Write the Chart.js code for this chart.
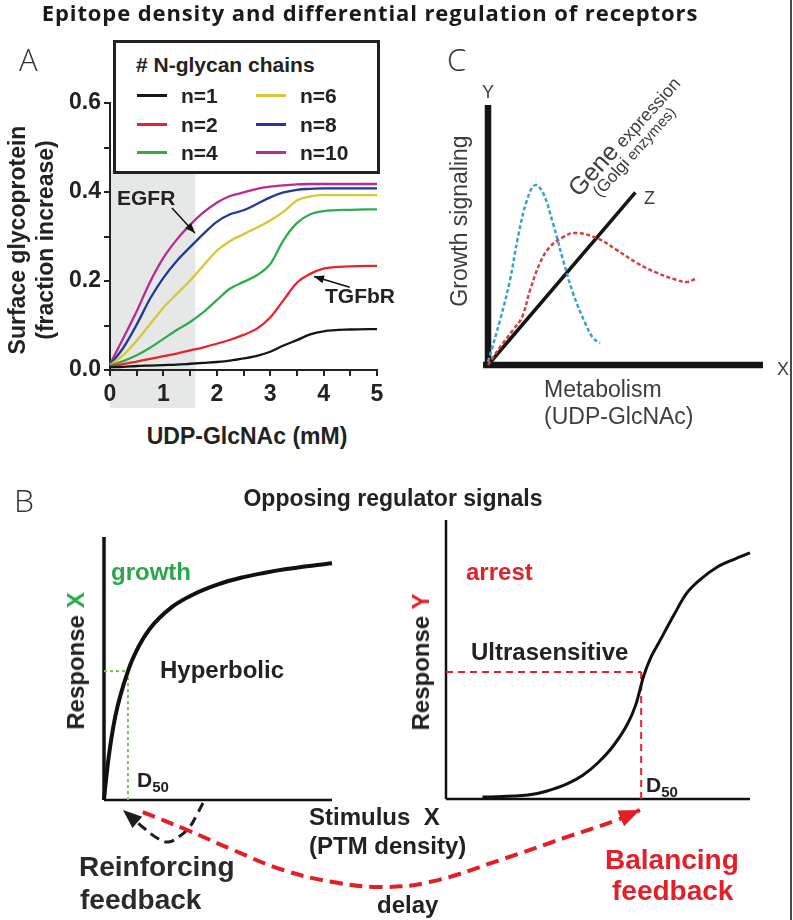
<!doctype html>
<html lang="en">
<head>
<meta charset="utf-8">
<title>Epitope density and differential regulation of receptors</title>
<script src="https://cdn.jsdelivr.net/npm/chart.js@4.4.1/dist/chart.umd.min.js"></script>
<style>
  html, body { margin: 0; padding: 0; background: #fff; }
  #page { position: relative; width: 793px; height: 920px; overflow: hidden;
          font-family: "Liberation Sans", Arial, sans-serif; color: #222; }
  #page canvas { position: absolute; }
  .t { position: absolute; white-space: nowrap; line-height: 1; font-weight: bold; }
  .v { transform: translate(-50%, -50%) rotate(-90deg); }
  .c { transform: translateX(-50%); }
  .thin { font-family: "Open Sans", sans-serif; font-weight: 300; color: #333; }
  .reg { font-weight: normal; color: #3d3d3d; }
  .green { color: #2aa74a; }
  .red { color: #e3202a; }
  .sub { font-size: 15px; position: relative; top: 5px; }
  #legendA { position: absolute; left: 113px; top: 40px; width: 261px; height: 128px;
             border: 3px solid #222; background: #fff; }
  .lgline { position: absolute; height: 3px; width: 30px; }
</style>
</head>
<body>
<div id="page">
  <canvas id="chartA" width="400" height="420" style="left:0;top:0"></canvas>
  <canvas id="chartC" width="353" height="310" style="left:440px;top:80px"></canvas>
  <canvas id="chartBL" width="300" height="300" style="left:60px;top:520px"></canvas>
  <canvas id="chartBR" width="393" height="320" style="left:400px;top:500px"></canvas>
  <canvas id="chartFB" width="793" height="140" style="left:0;top:780px"></canvas>

  <div class="t c" style="font-family:'Open Sans',sans-serif;font-size:22px;letter-spacing:0.9px;left:370px;top:1px;color:#1a1a1a">Epitope density and differential regulation of receptors</div>

  <!-- panel A -->
  <div class="t thin" style="font-size:31px;left:19px;top:44px">A</div>
  <div id="legendA"></div>
  <div class="t" style="font-size:21px;left:136px;top:54px"># N-glycan chains</div>
  <div class="t v" style="font-size:23px;left:17px;top:240px">Surface glycoprotein</div>
  <div class="t v" style="font-size:23px;left:45px;top:240px">(fraction increase)</div>
  <div class="t c" style="font-size:23px;left:247px;top:425px">UDP-GlcNAc (mM)</div>
  <div class="t" style="font-size:21px;left:117px;top:187px">EGFR</div>
  <div class="t" style="font-size:21px;left:325px;top:285px">TGFbR</div>

  <!-- panel C -->
  <div class="t thin" style="font-size:31px;left:447px;top:44px">C</div>
  <div class="t reg" style="font-size:18px;left:482px;top:83px">Y</div>
  <div class="t reg" style="font-size:18px;left:644px;top:189px">Z</div>
  <div class="t reg" style="font-size:18px;left:777px;top:360px">X</div>
  <div class="t reg v" style="font-size:23px;left:459px;top:221px">Growth signaling</div>
  <div class="t reg" style="font-size:23px;left:544px;top:378px">Metabolism</div>
  <div class="t reg" style="font-size:23px;left:544px;top:405px">(UDP-GlcNAc)</div>
  <div class="t reg" style="font-size:25px;left:579px;top:177px;transform-origin:0 21px;transform:rotate(-48deg)">Gene<span style="font-size:18px"> expression</span></div>
  <div class="t reg" style="font-size:17px;left:600px;top:184px;transform-origin:0 14px;transform:rotate(-48deg)">(Golgi<span style="font-size:15px"> enzymes)</span></div>

  <!-- panel B -->
  <div class="t thin" style="font-size:32px;left:14px;top:484px">B</div>
  <div class="t c" style="font-size:23px;left:393px;top:487px">Opposing regulator signals</div>
  <div class="t green" style="font-size:24px;left:111px;top:560px">growth</div>
  <div class="t v" style="font-size:24px;left:76px;top:661px">Response <span class="green">X</span></div>
  <div class="t" style="font-size:24px;left:160px;top:658px">Hyperbolic</div>
  <div class="t" style="font-size:21px;left:137px;top:769px">D<span class="sub">50</span></div>
  <div class="t red" style="font-size:24px;left:466px;top:560px">arrest</div>
  <div class="t" style="font-size:24px;left:471px;top:640px">Ultrasensitive</div>
  <div class="t v" style="font-size:24px;left:421px;top:662px">Response <span class="red">Y</span></div>
  <div class="t" style="font-size:21px;left:646px;top:774px">D<span class="sub">50</span></div>
  <div class="t" style="font-size:24px;left:309px;top:805px">Stimulus&nbsp; X</div>
  <div class="t" style="font-size:24px;left:309px;top:834px">(PTM density)</div>
  <div class="t" style="font-size:24px;left:377px;top:893px">delay</div>
  <div class="t" style="font-size:28px;left:79px;top:853px;color:#2a2a2a">Reinforcing</div>
  <div class="t" style="font-size:28px;left:80px;top:886px;color:#2a2a2a">feedback</div>
  <div class="t red" style="font-size:28px;left:605px;top:846px">Balancing</div>
  <div class="t red" style="font-size:28px;left:612px;top:877px">feedback</div>

  <div style="position:absolute;left:790px;top:0;width:2px;height:920px;background:#4a4a4a"></div>
</div>

<script>
  // ---- panel A: surface glycoprotein vs UDP-GlcNAc
  const glycanLabels = ['n=1', 'n=2', 'n=4', 'n=6', 'n=8', 'n=10'];
  const glycanColors = ['#151515', '#e8232a', '#2fad4a', '#d6c734', '#22399b', '#b82a94'];
  const udp = [0, 0.25, 0.5, 0.75, 1, 1.25, 1.5, 1.75, 2, 2.25, 2.5, 2.75, 3, 3.25, 3.5, 3.75, 4, 4.5, 5];
  const gN1 = [0.006, 0.007, 0.009, 0.010, 0.011, 0.012, 0.014, 0.016, 0.018, 0.021, 0.026, 0.032, 0.041, 0.055, 0.067, 0.080, 0.087, 0.091, 0.092];
  const gN2 = [0.008, 0.013, 0.019, 0.025, 0.031, 0.037, 0.044, 0.051, 0.059, 0.068, 0.079, 0.093, 0.118, 0.157, 0.196, 0.216, 0.228, 0.233, 0.234];
  const gN4 = [0.010, 0.020, 0.033, 0.050, 0.070, 0.090, 0.108, 0.130, 0.157, 0.183, 0.198, 0.213, 0.238, 0.292, 0.330, 0.350, 0.357, 0.360, 0.361];
  const gN6 = [0.011, 0.034, 0.066, 0.103, 0.140, 0.171, 0.201, 0.235, 0.268, 0.290, 0.305, 0.320, 0.336, 0.356, 0.381, 0.390, 0.393, 0.393, 0.393];
  const gN8 = [0.012, 0.050, 0.102, 0.160, 0.207, 0.245, 0.276, 0.306, 0.333, 0.350, 0.359, 0.373, 0.388, 0.399, 0.405, 0.407, 0.408, 0.408, 0.408];
  const gN10 = [0.013, 0.072, 0.132, 0.198, 0.252, 0.293, 0.326, 0.354, 0.376, 0.391, 0.399, 0.407, 0.412, 0.415, 0.417, 0.418, 0.418, 0.418, 0.418];
  const shadeX = [0, 1.6];
  const shadeTop = 0.45;
  const egfrArrow = { x: [1.16, 1.59], y: [0.364, 0.308] };
  const tgfbArrow = { x: [4.49, 3.82], y: [0.186, 0.210] };

  // ---- panel C: schematic axes and curves
  const cAxisLen = 10;
  const cZaxis = { x: [0, 5.36], y: [0, 6.64] };
  const cBlueX = [0, 0.44, 0.8, 1.09, 1.42, 1.71, 2.0, 2.36, 2.73, 3.09, 3.53, 3.82, 4.07];
  const cBlueY = [0.12, 1.73, 3.27, 4.92, 6.35, 6.92, 6.62, 5.46, 4.04, 2.77, 1.62, 1.04, 0.85];
  const cRedX = [0, 0.44, 0.91, 1.24, 1.53, 1.89, 2.25, 2.73, 3.16, 3.96, 4.69, 5.42, 6.15, 6.87, 7.24, 7.53];
  const cRedY = [0, 0.69, 1.35, 1.85, 2.88, 3.92, 4.54, 4.92, 5.08, 4.88, 4.42, 3.92, 3.54, 3.27, 3.19, 3.31];

  // ---- panel B: response curves
  const stimHyp = [0, 0.005, 0.02, 0.05, 0.105, 0.15, 0.2, 0.3, 0.4, 0.5, 0.6, 0.7, 0.8, 0.9, 1.0];
  const respHyp = [0, 0.045, 0.16, 0.32, 0.49, 0.58, 0.65, 0.735, 0.785, 0.82, 0.845, 0.863, 0.878, 0.89, 0.90];
  const d50Hyp = [0.105, 0.49];
  const stimUlt = [0.12, 0.27, 0.33, 0.4, 0.45, 0.5, 0.55, 0.6, 0.625, 0.65, 0.675, 0.7, 0.75, 0.79, 0.84, 0.89, 0.95, 1.0];
  const respUlt = [0.007, 0.014, 0.028, 0.055, 0.085, 0.13, 0.19, 0.275, 0.34, 0.44, 0.51, 0.56, 0.66, 0.735, 0.79, 0.83, 0.86, 0.882];
  const d50Ult = [0.642, 0.455];

  // ---- feedback arrows (0-100 diagram units)
  const fbRedX = [18.0, 23.6, 29.4, 35.7, 42.0, 47.9, 54.2, 63.1, 71.5, 77.8, 80.7];
  const fbRedY = [77.1, 64.3, 50.0, 35.7, 27.1, 23.6, 27.1, 42.9, 59.3, 71.4, 78.6];
  const fbBlackX = [25.6, 24.8, 24.0, 22.7, 21.2, 19.8, 18.3, 15.5];
  const fbBlackY = [83.6, 75.0, 67.1, 60.0, 55.7, 58.6, 65.0, 78.6];

  // legend of panel A
  const page = document.getElementById('page');
  const rowsY = [95.5, 124.5, 152.5];
  glycanLabels.forEach((lab, i) => {
    const col = Math.floor(i / 3), row = i % 3;
    const ln = document.createElement('div');
    ln.className = 'lgline';
    ln.style.background = glycanColors[i];
    ln.style.left = (col ? 256 : 137) + 'px';
    ln.style.top = (rowsY[row] - 1.5) + 'px';
    page.appendChild(ln);
    const tx = document.createElement('div');
    tx.className = 't';
    tx.style.fontSize = '21px';
    tx.style.left = (col ? 300 : 181) + 'px';
    tx.style.top = (rowsY[row] - 10.3) + 'px';
    tx.textContent = lab;
    page.appendChild(tx);
  });

  function path(xs, ys, color, width, extra) {
    return Object.assign({
      data: xs.map((x, i) => ({ x: x, y: ys[i] })),
      showLine: true, pointRadius: 0, borderColor: color, borderWidth: width,
      fill: false, clip: false, tension: 0
    }, extra || {});
  }

  function plainOptions(pad, xr, yr) {
    return {
      responsive: false, animation: false, events: [],
      layout: { padding: pad },
      plugins: { legend: { display: false }, tooltip: { enabled: false } },
      scales: {
        x: { type: 'linear', display: false, min: xr[0], max: xr[1] },
        y: { type: 'linear', display: false, min: yr[0], max: yr[1] }
      }
    };
  }

  // arrowhead at the last point of any dataset that has "arrow"
  const arrowHeads = {
    id: 'arrowHeads',
    afterDatasetsDraw(chart) {
      const ctx = chart.ctx;
      chart.data.datasets.forEach((ds, i) => {
        if (!ds.arrow) return;
        const pts = chart.getDatasetMeta(i).data;
        const a = pts[pts.length - 2], b = pts[pts.length - 1];
        const ang = Math.atan2(b.y - a.y, b.x - a.x);
        ctx.save();
        ctx.translate(b.x, b.y);
        ctx.rotate(ang);
        ctx.beginPath();
        ctx.moveTo(0, 0);
        ctx.lineTo(-ds.arrow.len, -ds.arrow.w / 2);
        ctx.lineTo(-ds.arrow.len, ds.arrow.w / 2);
        ctx.closePath();
        ctx.fillStyle = ds.borderColor;
        ctx.fill();
        ctx.restore();
      });
    }
  };

  const shadePlugin = {
    id: 'shade',
    beforeDraw(chart) {
      const { ctx, chartArea, scales } = chart;
      const x0 = scales.x.getPixelForValue(shadeX[0]);
      const x1 = scales.x.getPixelForValue(shadeX[1]);
      const y0 = scales.y.getPixelForValue(shadeTop);
      ctx.save();
      ctx.fillStyle = '#e6e7e7';
      ctx.fillRect(x0, y0, x1 - x0, chartArea.bottom + 38 - y0);
      ctx.restore();
    }
  };

  const tickFont = { family: 'Liberation Sans', size: 23, weight: 'bold' };
  const seriesA = [gN1, gN2, gN4, gN6, gN8, gN10];

  new Chart(document.getElementById('chartA'), {
    type: 'scatter',
    data: {
      datasets: [
        path(egfrArrow.x, egfrArrow.y, '#111', 1.5, { arrow: { len: 10, w: 8 } }),
        path(tgfbArrow.x, tgfbArrow.y, '#111', 1.5, { arrow: { len: 10, w: 8 } })
      ].concat(seriesA.map((ys, i) =>
        path(udp, ys, glycanColors[i], 2.3, { cubicInterpolationMode: 'monotone' })))
    },
    options: {
      responsive: false, animation: false, events: [],
      layout: { padding: { left: 60, right: 23, top: 103, bottom: 10 } },
      plugins: { legend: { display: false }, tooltip: { enabled: false } },
      scales: {
        x: {
          type: 'linear', min: 0, max: 5,
          afterFit: s => { s.height = 40; s.paddingLeft = 0; s.paddingRight = 0; },
          grid: { drawOnChartArea: false, tickLength: 6, color: '#222', tickColor: '#222', lineWidth: 2 },
          border: { display: true, color: '#222', width: 2 },
          ticks: {
            stepSize: 0.5, autoSkip: false, maxRotation: 0, padding: 5, color: '#222', font: tickFont,
            callback: v => Number.isInteger(v) ? String(v) : ''
          }
        },
        y: {
          type: 'linear', min: 0, max: 0.6,
          afterFit: s => { s.width = 50; },
          grid: { drawOnChartArea: false, tickLength: 6, color: '#222', tickColor: '#222', lineWidth: 2 },
          border: { display: true, color: '#222', width: 2 },
          ticks: {
            stepSize: 0.1, autoSkip: false, padding: 3, color: '#222', font: tickFont,
            callback: v => Math.round(v * 10) % 2 === 0 ? v.toFixed(1) : ''
          }
        }
      }
    },
    plugins: [shadePlugin, arrowHeads]
  });

  new Chart(document.getElementById('chartC'), {
    type: 'scatter',
    data: {
      datasets: [
        path(cBlueX, cBlueY, '#3aa0cf', 2.5, { borderDash: [4, 2.5], tension: 0.4 }),
        path(cRedX, cRedY, '#d8403c', 2.5, { borderDash: [4, 2.5], tension: 0.4 }),
        path(cZaxis.x, cZaxis.y, '#151515', 3.5),
        path([0, 0], [-0.12, cAxisLen], '#151515', 6.5),
        path([-0.18, cAxisLen], [0, 0], '#151515', 6.5)
      ]
    },
    options: plainOptions({ left: 48, right: 30, top: 25, bottom: 25 }, [0, cAxisLen], [0, cAxisLen])
  });

  new Chart(document.getElementById('chartBL'), {
    type: 'scatter',
    data: {
      datasets: [
        path(stimHyp, respHyp, '#111', 4, { cubicInterpolationMode: 'monotone' }),
        path([0, d50Hyp[0]], [d50Hyp[1], d50Hyp[1]], '#7ec242', 2, { borderDash: [3, 3] }),
        path([d50Hyp[0], d50Hyp[0]], [d50Hyp[1], 0], '#7ec242', 2, { borderDash: [3, 3] }),
        path([0, 0], [0, 1], '#111', 3.5),
        path([0, 1], [0, 0], '#111', 2.5)
      ]
    },
    options: plainOptions({ left: 44, right: 28, top: 17, bottom: 20 }, [0, 1], [0, 1])
  });

  new Chart(document.getElementById('chartBR'), {
    type: 'scatter',
    data: {
      datasets: [
        path(stimUlt, respUlt, '#111', 3, { cubicInterpolationMode: 'monotone' }),
        path([0, d50Ult[0]], [d50Ult[1], d50Ult[1]], '#e3262d', 2, { borderDash: [7, 5] }),
        path([d50Ult[0], d50Ult[0]], [d50Ult[1], 0], '#e3262d', 2, { borderDash: [7, 5] }),
        path([0, 0], [0, 1], '#111', 2.5),
        path([0, 1], [0, 0], '#111', 2.5)
      ]
    },
    options: plainOptions({ left: 46, right: 43, top: 20, bottom: 21 }, [0, 1], [0, 1])
  });

  new Chart(document.getElementById('chartFB'), {
    type: 'scatter',
    data: {
      datasets: [
        path(fbRedX, fbRedY, '#e31e24', 4, { borderDash: [13, 7], tension: 0.4, arrow: { len: 21, w: 17 } }),
        path(fbBlackX, fbBlackY, '#1e1e1e', 3, { borderDash: [10, 6], tension: 0.4, arrow: { len: 19, w: 15 } })
      ]
    },
    options: plainOptions(0, [0, 100], [0, 100]),
    plugins: [arrowHeads]
  });
</script>
</body>
</html>
